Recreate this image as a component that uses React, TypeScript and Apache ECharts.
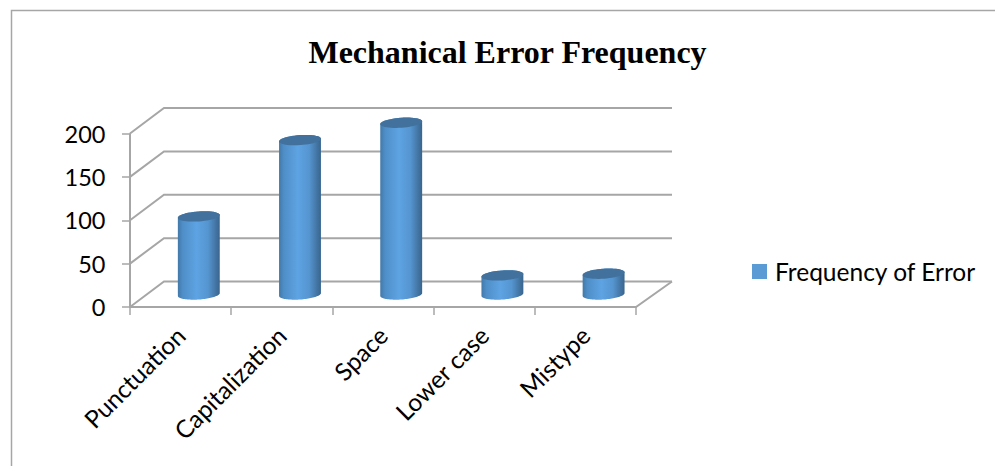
import React, { useEffect, useRef } from "react";
import * as echarts from "echarts";

const categories = ["Punctuation", "Capitalization", "Space", "Lower case", "Mistype"];
const seriesName = "Frequency of Error";
const values = [90, 178, 198, 22, 24];
const gridValues = [0, 50, 100, 150, 200];
const titleText = "Mechanical Error Frequency";

const DEPTH_X = 34;
const DEPTH_Y = 25.5;
const WALL_COLOR = "#a6a6a6";

function ellipsePts(cx: number, cy: number, rx: number, ry: number, tilt: number, from = 0, to = Math.PI * 2) {
  const pts: number[][] = [];
  const n = 48;
  for (let i = 0; i <= n; i++) {
    const t = from + ((to - from) * i) / n;
    const x0 = rx * Math.cos(t);
    const y0 = ry * Math.sin(t);
    pts.push([cx + x0 * Math.cos(tilt) - y0 * Math.sin(tilt), cy + x0 * Math.sin(tilt) + y0 * Math.cos(tilt)]);
  }
  return pts;
}

export default function App() {
  const ref = useRef<HTMLDivElement>(null);
  useEffect(() => {
    const chart = echarts.init(ref.current!, null, { renderer: "svg" });
    const lineStyle = { stroke: WALL_COLOR, lineWidth: 2, fill: "none" };
    chart.setOption({
      animation: false,
      backgroundColor: "#ffffff",
      title: {
        text: titleText,
        left: 502.5,
        top: 30.5,
        textAlign: "center",
        textStyle: { fontFamily: "Liberation Serif", fontWeight: "bold", fontSize: 32, color: "#000" },
      },
      legend: {
        data: [{ name: seriesName, icon: "rect", itemStyle: { color: "#5b9bd5" } }],
        left: 752,
        top: 259,
        itemWidth: 15,
        itemHeight: 15,
        itemGap: 8,
        textStyle: { fontFamily: "Lato", fontSize: 24.5, color: "#000", padding: [0, 0, 0, 3] },
        padding: 0,
      },
      grid: { left: 130, top: 133.5, width: 506, height: 173.5, containLabel: false },
      xAxis: {
        type: "category",
        data: categories,
        axisLine: { show: false },
        axisTick: { show: true, length: 8, lineStyle: { color: WALL_COLOR, width: 1.5 } },
        axisLabel: {
          rotate: 45,
          interval: 0,
          margin: 24,
          fontFamily: "Lato",
          fontSize: 24.5,
          color: "#000",
        },
      },
      yAxis: {
        type: "value",
        min: 0,
        max: 200,
        interval: 50,
        axisLine: { show: false },
        axisTick: { show: true, length: 8, lineStyle: { color: WALL_COLOR, width: 1.5 } },
        splitLine: { show: false },
        axisLabel: { margin: 24.5, fontFamily: "Lato", fontSize: 23.5, color: "#000" },
      },
      series: [
        {
          type: "custom",
          name: "walls",
          silent: true,
          z: 1,
          data: gridValues.map((v) => [0, v]),
          encode: { x: 0, y: 1 },
          renderItem(params: any, api: any) {
            const v = api.value(1);
            const cs = params.coordSys;
            const y = api.coord([0, v])[1];
            const x0 = cs.x;
            const children: any[] = [
              {
                type: "polyline",
                shape: { points: [[x0, y], [x0 + DEPTH_X, y - DEPTH_Y], [x0 + cs.width + DEPTH_X + 2, y - DEPTH_Y]] },
                style: lineStyle,
              },
            ];
            if (v === 0) {
              children.push({
                type: "polyline",
                shape: {
                  points: [[x0, cs.y], [x0, y], [x0 + cs.width, y], [x0 + cs.width + DEPTH_X + 2, y - DEPTH_Y]],
                },
                style: lineStyle,
              });
            }
            return { type: "group", children };
          },
        },
        {
          type: "custom",
          name: seriesName,
          silent: true,
          z: 2,
          itemStyle: { color: "#5b9bd5" },
          data: values.map((v, i) => [i, v]),
          encode: { x: 0, y: 1 },
          renderItem(_params: any, api: any) {
            const base = api.coord([api.value(0), 0]);
            const top = api.coord([api.value(0), api.value(1)]);
            const dx = 18.2;
            const dy = 12.5;
            const rx = 21;
            const ry = 5;
            const tilt = -0.07;
            const bx = base[0] + dx;
            const by = base[1] - dy;
            const ty = top[1] - dy;
            const bottomArc = ellipsePts(bx, by, rx, ry, tilt, 0, Math.PI);
            const topArc = ellipsePts(bx, ty, rx, ry, tilt, Math.PI, Math.PI * 2);
            const grad = new echarts.graphic.LinearGradient(0, 0, 1, 0, [
              { offset: 0, color: "#4279a9" },
              { offset: 0.12, color: "#4f8fc8" },
              { offset: 0.45, color: "#5ea3e3" },
              { offset: 0.72, color: "#5595d0" },
              { offset: 0.92, color: "#41729f" },
              { offset: 1, color: "#38658e" },
            ]);
            return {
              type: "group",
              children: [
                {
                  type: "polygon",
                  shape: { points: [...topArc, ...bottomArc] },
                  style: { fill: grad },
                },
                {
                  type: "polygon",
                  shape: { points: ellipsePts(bx, ty, rx, ry, tilt) },
                  style: { fill: "#41719c" },
                },
              ],
            };
          },
        },
      ],
      graphic: [
        {
          type: "polyline",
          silent: true,
          shape: { points: [[11.5, 466], [11.5, 10.5], [995, 10.5]] },
          style: { stroke: "#a6a6a6", lineWidth: 1.5, fill: "none" },
        },
      ],
    });
    return () => chart.dispose();
  }, []);
  return <div ref={ref} style={{ position: "absolute", left: 0, top: 0, width: 995, height: 466 }} />;
}
